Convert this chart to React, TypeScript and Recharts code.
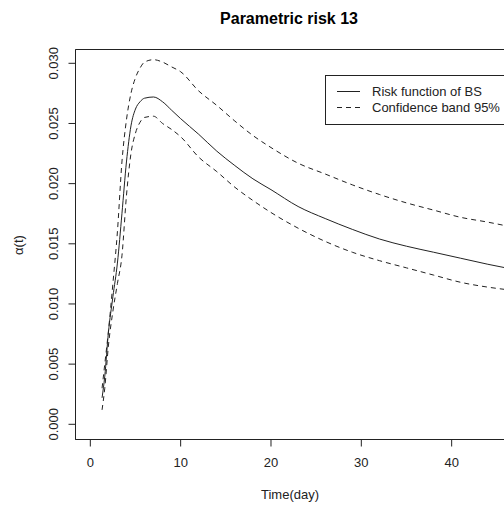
import React from "react";
import { LineChart, Line, XAxis, YAxis, ReferenceArea } from "recharts";

// time (days) and estimated risk values
const days = [1.3, 1.6, 2, 2.5, 3, 3.5, 4, 4.5, 5, 5.5, 6, 7, 8, 9, 10, 12, 14, 16, 18, 20, 23, 26, 29, 32, 35, 38, 41, 44, 46];
const riskBS = [0.0022, 0.004, 0.0076, 0.0106, 0.0134, 0.0175, 0.0218, 0.0248, 0.0262, 0.0268, 0.0271, 0.0272, 0.0268, 0.0261, 0.0254, 0.0241, 0.0227, 0.0215, 0.0204, 0.0195, 0.0181, 0.0171, 0.0162, 0.0154, 0.0148, 0.0143, 0.0138, 0.0133, 0.013];
const upperBand = [0.003, 0.005, 0.0077, 0.0117, 0.016, 0.0218, 0.0253, 0.0275, 0.0288, 0.0296, 0.0301, 0.0303, 0.0301, 0.0297, 0.0293, 0.0277, 0.0265, 0.0252, 0.024, 0.023, 0.0217, 0.0208, 0.0199, 0.0191, 0.0184, 0.0178, 0.0172, 0.0168, 0.0165];
const lowerBand = [0.0012, 0.003, 0.0065, 0.0094, 0.0117, 0.014, 0.019, 0.0225, 0.0242, 0.0251, 0.0255, 0.0256, 0.025, 0.0245, 0.0239, 0.0222, 0.021, 0.0197, 0.0186, 0.0176, 0.0163, 0.0152, 0.0143, 0.0136, 0.013, 0.0124, 0.0118, 0.0114, 0.0112];

const xTicks = [0, 10, 20, 30, 40];
const yTicks = [0, 0.005, 0.01, 0.015, 0.02, 0.025, 0.03];

const data = days.map((d, i) => ({ day: d, risk: riskBS[i], upper: upperBand[i], lower: lowerBand[i] }));

const FONT = '"Liberation Sans", Arial, sans-serif';
const INK = "#222";
const X_DOMAIN: [number, number] = [-1.64, 46.07];
const Y_DOMAIN: [number, number] = [-0.001263, 0.031147];

const YTick = (props: any) => {
  const { y, payload } = props;
  return (
    <text transform={`translate(58,${y}) rotate(-90)`} textAnchor="middle" fontSize={13} fontFamily={FONT} fill={INK}>
      {payload.value.toFixed(3)}
    </text>
  );
};

const XTick = (props: any) => {
  const { x, payload } = props;
  return (
    <text x={x} y={467} textAnchor="middle" fontSize={13} fontFamily={FONT} fill={INK}>
      {payload.value}
    </text>
  );
};

export default function App() {
  return (
    <div style={{ position: "absolute", left: 0, top: 0, width: 504, height: 510, overflow: "hidden", background: "#fff" }}>
      <LineChart width={508} height={510} data={data} margin={{ top: 49.5, right: 1.5, bottom: 10.5, left: 0.5 }}>
        <XAxis
          dataKey="day"
          type="number"
          domain={X_DOMAIN}
          ticks={xTicks}
          allowDataOverflow
          height={60}
          tickSize={7}
          stroke={INK}
          tick={<XTick />}
        />
        <YAxis
          type="number"
          domain={Y_DOMAIN}
          ticks={yTicks}
          allowDataOverflow
          width={75}
          tickSize={7}
          stroke={INK}
          tick={<YTick />}
        />
        <ReferenceArea x1={X_DOMAIN[0]} x2={X_DOMAIN[1]} y1={Y_DOMAIN[0]} y2={Y_DOMAIN[1]} fill="none" stroke={INK} strokeOpacity={1} />
        <Line type="monotone" dataKey="upper" stroke={INK} strokeWidth={1} strokeDasharray="5 4" dot={false} isAnimationActive={false} />
        <Line type="monotone" dataKey="risk" stroke={INK} strokeWidth={1} dot={false} isAnimationActive={false} />
        <Line type="monotone" dataKey="lower" stroke={INK} strokeWidth={1} strokeDasharray="5 4" dot={false} isAnimationActive={false} />
      </LineChart>
      <svg width={504} height={510} style={{ position: "absolute", left: 0, top: 0, pointerEvents: "none" }}>
        <text x={289} y={23.5} textAnchor="middle" fontSize={16} fontWeight="bold" fontFamily={FONT} fill="#000">
          Parametric risk 13
        </text>
        <text x={290} y={499} textAnchor="middle" fontSize={13} fontFamily={FONT} fill={INK}>
          Time(day)
        </text>
        <text transform="translate(23,245) rotate(-90)" textAnchor="middle" fontSize={13} fontFamily={FONT} fill={INK}>
          α(t)
        </text>
        <rect x={325.5} y={75.5} width={200} height={49} fill="#fff" stroke={INK} />
        <line x1={337} x2={360} y1={91.5} y2={91.5} stroke={INK} />
        <line x1={337} x2={360} y1={107.5} y2={107.5} stroke={INK} strokeDasharray="5 4" />
        <text x={372} y={96} fontSize={13} fontFamily={FONT} fill={INK}>Risk function of BS</text>
        <text x={372} y={112} fontSize={13} fontFamily={FONT} fill={INK}>Confidence band 95%</text>
      </svg>
    </div>
  );
}
